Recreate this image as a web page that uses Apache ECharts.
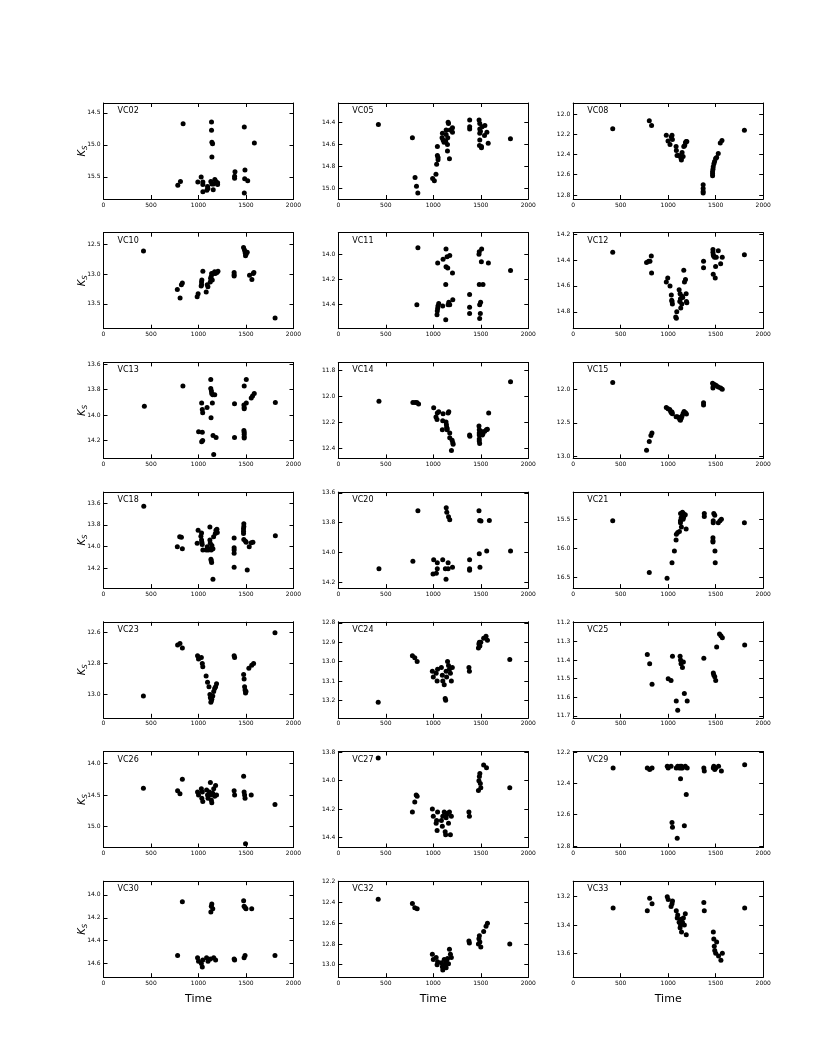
<!DOCTYPE html>
<html>
<head>
<meta charset="utf-8">
<script src="https://cdn.jsdelivr.net/npm/echarts@6/dist/echarts.min.js"></script>
<style>
  html, body { margin: 0; padding: 0; background: #fff; }
  #main { width: 830px; height: 1038px; }
</style>
</head>
<body>
<div id="main"></div>
<script>
// light curves: [time, Ks]
const VC02 = [[782,15.63],[810,15.57],[838,14.67],[993,15.58],[1028,15.50],[1046,15.58],[1046,15.62],[1046,15.73],[1088,15.71],[1095,15.65],[1099,15.68],[1130,15.57],[1137,14.64],[1137,14.77],[1141,14.96],[1148,14.98],[1141,15.19],[1141,15.61],[1155,15.70],[1158,15.61],[1172,15.54],[1183,15.57],[1201,15.59],[1201,15.62],[1384,15.42],[1380,15.49],[1380,15.52],[1482,14.72],[1489,15.39],[1486,15.53],[1518,15.56],[1482,15.75],[1588,14.97]];
const VC05 = [[422,14.42],[780,14.54],[808,14.90],[823,14.98],[837,15.04],[993,14.91],[1011,14.93],[1028,14.87],[1035,14.78],[1043,14.62],[1043,14.70],[1050,14.72],[1050,14.74],[1092,14.54],[1096,14.50],[1103,14.56],[1113,14.58],[1131,14.57],[1135,14.47],[1135,14.51],[1149,14.60],[1149,14.66],[1152,14.54],[1156,14.40],[1160,14.41],[1170,14.73],[1177,14.47],[1202,14.45],[1202,14.49],[1383,14.38],[1383,14.44],[1383,14.46],[1482,14.38],[1489,14.41],[1489,14.46],[1496,14.48],[1489,14.50],[1514,14.44],[1489,14.56],[1486,14.61],[1507,14.62],[1507,14.63],[1539,14.52],[1543,14.43],[1564,14.49],[1578,14.59],[1812,14.55]];
const VC08 = [[416,12.145],[801,12.065],[825,12.113],[980,12.21],[998,12.265],[1019,12.30],[1033,12.226],[1040,12.21],[1044,12.25],[1083,12.32],[1086,12.36],[1093,12.41],[1111,12.41],[1129,12.42],[1136,12.44],[1139,12.455],[1146,12.38],[1157,12.42],[1164,12.32],[1174,12.31],[1182,12.28],[1189,12.27],[1196,12.27],[1368,12.70],[1368,12.735],[1368,12.765],[1368,12.78],[1467,12.61],[1467,12.59],[1467,12.57],[1471,12.545],[1474,12.52],[1481,12.49],[1488,12.47],[1499,12.44],[1510,12.43],[1527,12.39],[1548,12.285],[1566,12.26],[1802,12.16]];
const VC10 = [[421,12.61],[777,13.26],[806,13.40],[820,13.18],[830,13.15],[986,13.38],[996,13.33],[1032,13.13],[1032,13.18],[1035,13.10],[1028,13.20],[1046,12.95],[1081,13.30],[1092,13.18],[1099,13.21],[1124,13.13],[1127,13.07],[1134,13.04],[1138,12.99],[1145,13.10],[1156,12.99],[1170,12.96],[1194,12.97],[1205,12.95],[1177,12.99],[1375,12.97],[1375,13.01],[1375,13.03],[1474,12.55],[1484,12.59],[1491,12.64],[1495,12.69],[1513,12.63],[1502,12.66],[1537,13.02],[1562,13.09],[1576,12.99],[1583,12.97],[1806,13.74]];
const VC11 = [[838,13.95],[827,14.40],[1046,14.07],[1039,14.48],[1042,14.45],[1046,14.43],[1049,14.41],[1057,14.39],[1099,14.41],[1103,14.04],[1134,13.96],[1134,14.10],[1131,14.24],[1131,14.52],[1145,14.02],[1152,14.11],[1156,14.40],[1163,14.38],[1173,14.40],[1173,14.01],[1202,14.15],[1205,14.36],[1382,14.32],[1382,14.42],[1382,14.47],[1481,14.00],[1484,13.98],[1484,14.24],[1488,14.40],[1498,14.38],[1495,14.47],[1488,14.51],[1509,13.96],[1506,14.06],[1523,14.24],[1580,14.07],[1813,14.13]];
const VC12 = [[416,14.34],[772,14.42],[794,14.41],[808,14.41],[822,14.37],[825,14.50],[980,14.57],[995,14.54],[1019,14.60],[1033,14.67],[1040,14.72],[1044,14.74],[1037,14.71],[1090,14.80],[1079,14.84],[1086,14.85],[1115,14.63],[1125,14.66],[1129,14.70],[1122,14.72],[1132,14.77],[1143,14.74],[1146,14.68],[1153,14.69],[1164,14.48],[1171,14.57],[1182,14.55],[1189,14.66],[1192,14.72],[1196,14.73],[1372,14.41],[1372,14.46],[1471,14.32],[1471,14.34],[1474,14.36],[1478,14.37],[1488,14.38],[1506,14.38],[1527,14.33],[1499,14.45],[1474,14.51],[1495,14.54],[1552,14.43],[1569,14.38],[1802,14.36]];
const VC13 = [[430,13.93],[836,13.77],[1033,13.905],[1044,13.98],[1040,13.955],[1040,14.135],[1033,14.21],[1044,14.20],[1001,14.13],[1090,13.94],[1129,13.72],[1129,13.79],[1136,13.81],[1139,13.83],[1150,13.84],[1171,13.84],[1146,13.905],[1132,14.02],[1153,14.16],[1185,14.175],[1160,14.31],[1379,13.91],[1379,14.175],[1481,13.77],[1503,13.72],[1478,13.92],[1481,13.94],[1481,13.95],[1503,13.905],[1478,14.12],[1481,14.135],[1481,14.15],[1481,14.17],[1481,14.18],[1555,13.865],[1569,13.85],[1587,13.83],[1809,13.90]];
const VC14 = [[428,12.04],[785,12.05],[809,12.05],[827,12.05],[845,12.06],[1004,12.09],[1028,12.16],[1039,12.18],[1042,12.13],[1057,12.12],[1095,12.26],[1099,12.19],[1103,12.135],[1134,12.20],[1138,12.22],[1141,12.24],[1145,12.25],[1145,12.26],[1156,12.13],[1163,12.12],[1173,12.285],[1173,12.32],[1198,12.34],[1205,12.36],[1209,12.37],[1191,12.42],[1382,12.30],[1385,12.31],[1481,12.23],[1484,12.26],[1484,12.285],[1484,12.30],[1484,12.33],[1484,12.345],[1488,12.365],[1502,12.27],[1516,12.30],[1523,12.29],[1541,12.27],[1559,12.26],[1569,12.255],[1583,12.13],[1813,11.89]];
const VC15 = [[416,11.90],[772,12.91],[801,12.78],[818,12.69],[829,12.65],[980,12.27],[998,12.29],[1016,12.30],[1026,12.33],[1033,12.35],[1040,12.34],[1044,12.365],[1083,12.41],[1097,12.41],[1111,12.42],[1122,12.45],[1129,12.46],[1139,12.43],[1146,12.40],[1157,12.36],[1167,12.33],[1182,12.35],[1192,12.37],[1372,12.20],[1372,12.235],[1467,11.91],[1471,11.98],[1474,11.96],[1488,11.93],[1506,11.945],[1527,11.965],[1552,11.98],[1569,12.00]];
const VC18 = [[424,13.63],[777,14.00],[802,13.91],[820,13.915],[830,14.02],[986,13.97],[996,13.85],[1025,13.905],[1032,13.875],[1032,13.94],[1035,13.96],[1039,13.98],[1046,14.03],[1081,14.03],[1092,14.00],[1103,14.03],[1120,13.82],[1120,13.94],[1124,13.97],[1127,14.02],[1134,14.03],[1131,14.115],[1134,14.13],[1138,14.145],[1141,13.99],[1152,14.02],[1159,13.91],[1177,13.88],[1184,13.85],[1194,13.84],[1198,13.87],[1152,14.30],[1375,13.92],[1375,14.01],[1375,14.03],[1375,14.06],[1375,14.19],[1477,13.79],[1477,13.815],[1474,13.835],[1474,13.86],[1474,13.88],[1477,13.935],[1495,13.95],[1502,13.96],[1513,14.215],[1534,14.00],[1555,13.965],[1573,13.96],[1809,13.90]];
const VC20 = [[428,14.11],[785,14.06],[838,13.72],[1004,14.05],[997,14.145],[1032,14.14],[1042,14.07],[1042,14.11],[1099,14.05],[1127,14.11],[1134,14.18],[1136,13.70],[1142,13.73],[1156,14.07],[1156,14.11],[1160,13.76],[1173,13.78],[1202,14.10],[1382,14.05],[1382,14.11],[1382,14.12],[1481,13.72],[1484,14.01],[1488,13.785],[1491,14.10],[1502,13.79],[1562,13.99],[1590,13.785],[1813,13.99]];
const VC21 = [[416,15.525],[801,16.42],[988,16.52],[1040,16.25],[1065,16.05],[1083,15.86],[1086,15.76],[1100,15.73],[1118,15.71],[1129,15.56],[1129,15.525],[1130,15.40],[1136,15.48],[1146,15.45],[1150,15.38],[1157,15.50],[1160,15.40],[1164,15.46],[1139,15.635],[1180,15.42],[1189,15.67],[1380,15.40],[1380,15.45],[1474,15.525],[1474,15.56],[1471,15.82],[1471,15.87],[1471,15.895],[1480,15.40],[1490,15.43],[1492,16.05],[1495,16.25],[1527,15.56],[1545,15.525],[1560,15.50],[1802,15.56]];
const VC23 = [[420,13.01],[780,12.68],[805,12.67],[830,12.70],[990,12.75],[1000,12.77],[1030,12.76],[1040,12.80],[1045,12.82],[1080,12.88],[1095,12.92],[1110,12.95],[1120,13.00],[1125,13.02],[1130,13.05],[1135,13.04],[1140,13.03],[1150,13.01],[1160,12.98],[1170,12.96],[1180,12.95],[1190,12.93],[1375,12.75],[1380,12.76],[1475,12.87],[1480,12.90],[1485,12.95],[1490,12.97],[1495,12.99],[1500,12.98],[1530,12.83],[1560,12.81],[1580,12.80],[1805,12.60]];
const VC24 = [[420,13.21],[780,12.97],[805,12.98],[830,13.00],[990,13.05],[1000,13.08],[1030,13.06],[1040,13.10],[1045,13.04],[1085,13.03],[1095,13.07],[1100,13.10],[1115,13.12],[1125,13.19],[1130,13.20],[1135,13.05],[1140,13.08],[1150,13.00],[1160,13.02],[1170,13.04],[1180,13.06],[1190,13.10],[1200,13.03],[1375,13.03],[1380,13.05],[1475,12.93],[1480,12.91],[1485,12.90],[1490,12.92],[1500,12.90],[1530,12.88],[1555,12.87],[1570,12.89],[1805,12.99]];
const VC25 = [[780,11.37],[805,11.42],[830,11.53],[1000,11.50],[1030,11.51],[1045,11.38],[1085,11.62],[1100,11.67],[1125,11.38],[1130,11.40],[1135,11.42],[1150,11.44],[1160,11.41],[1170,11.58],[1200,11.62],[1375,11.39],[1475,11.47],[1480,11.48],[1490,11.49],[1500,11.51],[1510,11.33],[1540,11.26],[1555,11.27],[1570,11.28],[1805,11.32]];
const VC26 = [[420,14.39],[780,14.43],[805,14.48],[830,14.25],[990,14.45],[1000,14.50],[1030,14.40],[1035,14.55],[1040,14.45],[1045,14.60],[1085,14.42],[1095,14.50],[1100,14.55],[1115,14.45],[1125,14.30],[1130,14.50],[1135,14.58],[1140,14.62],[1150,14.47],[1160,14.40],[1170,14.52],[1180,14.35],[1190,14.50],[1375,14.43],[1380,14.50],[1475,14.20],[1480,14.45],[1485,14.50],[1490,14.55],[1495,15.27],[1555,14.50],[1805,14.65]];
const VC27 = [[420,13.84],[780,14.22],[805,14.15],[820,14.10],[830,14.11],[990,14.20],[1000,14.25],[1030,14.30],[1035,14.28],[1040,14.35],[1045,14.22],[1085,14.28],[1095,14.32],[1100,14.25],[1115,14.22],[1125,14.36],[1130,14.38],[1135,14.26],[1140,14.24],[1150,14.23],[1160,14.30],[1170,14.22],[1180,14.38],[1190,14.25],[1375,14.22],[1380,14.25],[1475,14.07],[1480,14.00],[1485,13.97],[1490,13.95],[1495,14.02],[1500,14.05],[1530,13.89],[1560,13.91],[1805,14.05]];
const VC29 = [[420,12.30],[780,12.30],[805,12.31],[830,12.30],[990,12.29],[1000,12.30],[1030,12.29],[1040,12.65],[1045,12.68],[1085,12.30],[1095,12.75],[1100,12.29],[1115,12.30],[1125,12.29],[1130,12.37],[1135,12.30],[1140,12.29],[1150,12.30],[1170,12.67],[1180,12.29],[1190,12.47],[1200,12.30],[1375,12.30],[1380,12.32],[1475,12.30],[1480,12.29],[1490,12.31],[1500,12.30],[1530,12.29],[1560,12.32],[1805,12.28]];
const VC30 = [[780,14.53],[830,14.06],[990,14.55],[1000,14.58],[1030,14.60],[1040,14.63],[1045,14.57],[1085,14.55],[1100,14.58],[1125,14.56],[1130,14.15],[1135,14.10],[1140,14.08],[1150,14.12],[1160,14.55],[1180,14.57],[1375,14.56],[1380,14.57],[1475,14.05],[1480,14.10],[1480,14.55],[1490,14.11],[1490,14.53],[1500,14.12],[1560,14.12],[1805,14.53]];
const VC32 = [[420,12.37],[780,12.41],[805,12.45],[830,12.46],[990,12.90],[1000,12.95],[1030,12.93],[1040,13.00],[1045,12.97],[1085,12.98],[1095,13.02],[1100,13.05],[1115,12.95],[1125,13.00],[1130,12.98],[1135,13.03],[1140,12.96],[1150,12.94],[1160,12.99],[1170,12.85],[1180,12.90],[1190,12.93],[1375,12.77],[1380,12.79],[1475,12.80],[1480,12.75],[1485,12.72],[1490,12.78],[1500,12.83],[1530,12.68],[1555,12.63],[1570,12.60],[1805,12.80]];
const VC33 = [[420,13.28],[780,13.30],[805,13.21],[830,13.25],[990,13.20],[1000,13.22],[1030,13.27],[1040,13.25],[1045,13.23],[1085,13.30],[1095,13.35],[1100,13.33],[1115,13.38],[1125,13.42],[1130,13.40],[1135,13.36],[1140,13.45],[1150,13.38],[1160,13.35],[1170,13.40],[1180,13.32],[1190,13.47],[1375,13.24],[1380,13.30],[1475,13.45],[1480,13.50],[1485,13.55],[1490,13.58],[1500,13.60],[1510,13.52],[1530,13.62],[1555,13.65],[1570,13.60],[1805,13.28]];

const starNames = ['VC02','VC05','VC08','VC10','VC11','VC12','VC13','VC14','VC15','VC18','VC20','VC21','VC23','VC24','VC25','VC26','VC27','VC29','VC30','VC32','VC33'];
const starData = [VC02,VC05,VC08,VC10,VC11,VC12,VC13,VC14,VC15,VC18,VC20,VC21,VC23,VC24,VC25,VC26,VC27,VC29,VC30,VC32,VC33];
// y limits (magnitude axis, inverted) and tick step
const yMin  = [14.345,14.225,11.89,12.30,13.83,14.19,13.585,11.74,11.60,13.50,13.595,15.03,12.53,12.795,11.195,13.81,13.795,12.195,13.88,12.195,13.09];
const yMax  = [15.845,15.095,12.84,13.92,14.59,14.93,14.34,12.48,13.03,14.38,14.24,16.69,13.15,13.29,11.71,15.33,14.47,12.81,14.72,13.12,13.77];
const yStep = [0.5,0.2,0.2,0.5,0.2,0.2,0.2,0.2,0.5,0.2,0.2,0.5,0.2,0.1,0.1,0.5,0.2,0.2,0.2,0.2,0.2];
const xTickStep = 500;

const colLeft = [103.5, 338.3, 573.2];
const rowTop0 = 103, rowPitch = 129.7, panelW = 190, panelH = 96;
const FONT = 'DejaVu Sans';

const grid = [], xAxis = [], yAxis = [], series = [], title = [];
const lineStyle = { color: '#000', width: 1 };

starNames.forEach(function (name, i) {
  const r = Math.floor(i / 3), c = i % 3;
  const left = colLeft[c], top = rowTop0 + r * rowPitch;
  grid.push({ left: left, top: top, width: panelW, height: panelH, containLabel: false, outerBoundsMode: 'none' });

  const xBase = {
    gridIndex: i, type: 'value', min: 0, max: 2000, interval: xTickStep,
    axisLine: { show: true, onZero: false, lineStyle: lineStyle },
    axisTick: { show: true, inside: true, length: 4, lineStyle: lineStyle },
    splitLine: { show: false }
  };
  xAxis.push(Object.assign({}, xBase, {
    position: 'bottom',
    axisLabel: { fontSize: 6, margin: 3, color: '#000', fontFamily: FONT, formatter: function (v) { return String(v); } },
    name: r === 6 ? 'Time' : '', nameLocation: 'middle', nameGap: 16, nameMoveOverlap: false,
    nameTextStyle: { fontSize: 11, color: '#000', fontFamily: FONT }
  }));
  xAxis.push(Object.assign({}, xBase, { position: 'top', axisLabel: { show: false } }));

  const yBase = {
    gridIndex: i, type: 'value', inverse: true, min: yMin[i], max: yMax[i],
    minInterval: yStep[i], maxInterval: yStep[i],
    axisLine: { show: true, onZero: false, lineStyle: lineStyle },
    axisTick: { show: true, inside: true, length: 4, lineStyle: lineStyle },
    splitLine: { show: false }
  };
  yAxis.push(Object.assign({}, yBase, {
    position: 'left',
    axisLabel: {
      fontSize: 6, margin: 3, color: '#000', fontFamily: FONT,
      showMinLabel: false, showMaxLabel: false,
      formatter: function (v) { return v.toFixed(1); }
    },
    name: c === 0 ? '{k|K}{s|S}' : '', nameLocation: 'middle', nameRotate: 90, nameGap: 15,
    nameMoveOverlap: false,
    nameTextStyle: {
      color: '#000',
      rich: {
        k: { fontSize: 10, fontStyle: 'italic', fontFamily: FONT, color: '#000' },
        s: { fontSize: 7, fontStyle: 'italic', fontFamily: FONT, color: '#000', padding: [5, 0, 0, 0] }
      }
    }
  }));
  yAxis.push(Object.assign({}, yBase, { position: 'right', axisLabel: { show: false } }));

  series.push({
    type: 'scatter', xAxisIndex: 2 * i, yAxisIndex: 2 * i,
    data: starData[i], symbol: 'circle', symbolSize: 5,
    itemStyle: { color: '#000', opacity: 1 }, silent: true
  });

  title.push({
    text: name, left: left + 14, top: top + 4, padding: 0,
    textStyle: { fontSize: 8, fontWeight: 'normal', color: '#000', fontFamily: FONT }
  });
});

const chart = echarts.init(document.getElementById('main'), null, { renderer: 'canvas' });
chart.setOption({
  backgroundColor: '#fff',
  animation: false,
  title: title,
  grid: grid,
  xAxis: xAxis,
  yAxis: yAxis,
  series: series
});
</script>
</body>
</html>
